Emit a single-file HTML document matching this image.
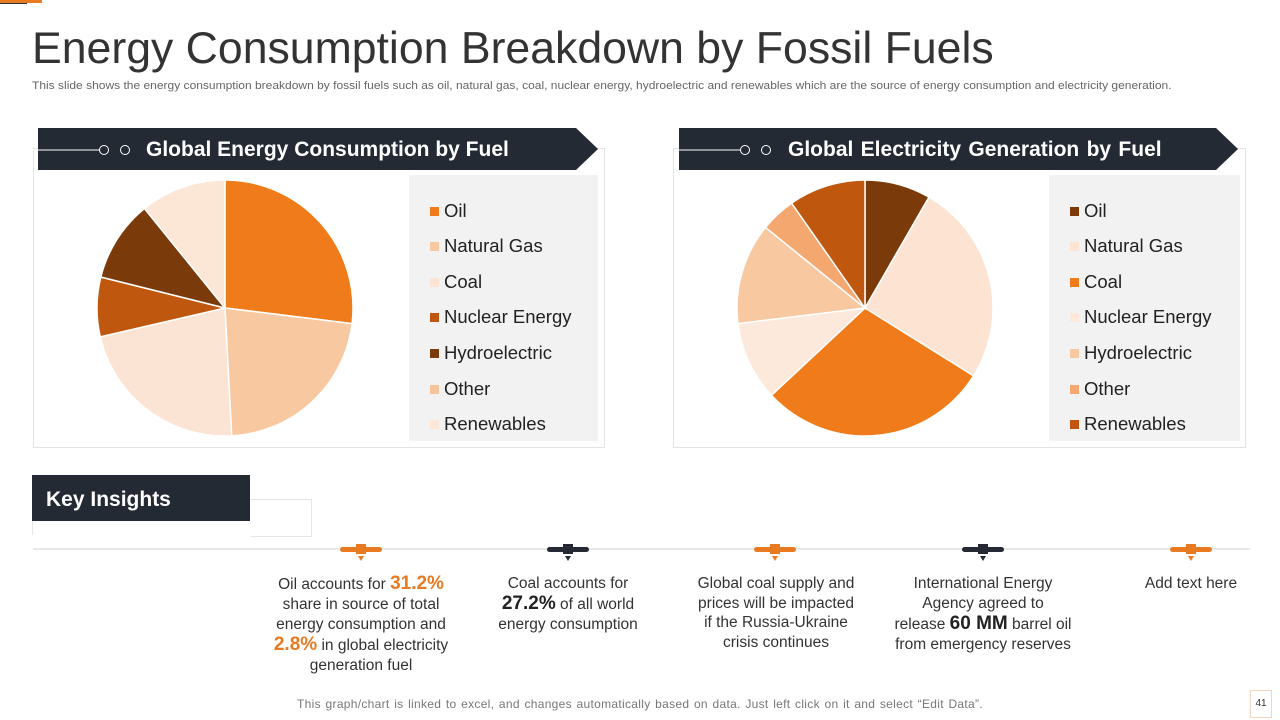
<!DOCTYPE html>
<html><head><meta charset="utf-8"><style>
body{margin:0;width:1280px;height:720px;background:#fff;position:relative;overflow:hidden;font-family:"Liberation Sans",sans-serif;color:#333}
.abs{position:absolute}
.banner{position:absolute;height:42px;background:#232a33;color:#fff;font-weight:bold;font-size:21px;line-height:44px;clip-path:polygon(0 0,calc(100% - 22px) 0,100% 50%,calc(100% - 22px) 100%,0 100%)}
.panel{position:absolute;border:1px solid #e3e3e3}
.legend{position:absolute;background:#f2f2f2}
.li{position:absolute;left:21px;font-size:18.5px;color:#222;height:24px;line-height:24px}
.li i{display:inline-block;width:9px;height:9px;margin-right:5px;vertical-align:1px}
.ins{position:absolute;width:200px;text-align:center;font-size:15.5px;line-height:20px;color:#333;white-space:nowrap}
.or{color:#e87a22;font-weight:bold;font-size:19px}
.bk{color:#222;font-weight:bold;font-size:19px}
</style></head><body>
<div class="abs" style="left:0;top:0;width:42px;height:3px;background:#e87a22"></div>
<div class="abs" style="left:0;top:3px;width:27px;height:1px;background:#333"></div>
<div class="abs" style="left:32px;top:24px;font-size:44.6px;color:#333;white-space:nowrap">Energy Consumption Breakdown by Fossil Fuels</div>
<div class="abs" style="left:32px;top:80px;font-size:11px;color:#666;white-space:nowrap;transform-origin:0 0;transform:scaleX(1.092)">This slide shows the energy consumption breakdown by fossil fuels such as oil, natural gas, coal, nuclear energy, hydroelectric and renewables which are the source of energy consumption and electricity generation.</div>

<div class="panel" style="left:33px;top:148px;width:570px;height:298px"></div>
<div class="panel" style="left:673px;top:148px;width:571px;height:298px"></div>
<div class="banner" style="left:38px;top:128px;width:560px"><span style="position:absolute;left:108px">Global Energy Consumption by Fuel</span></div>
<div class="banner" style="left:679px;top:128px;width:559px"><span style="position:absolute;left:109px;word-spacing:1.5px">Global Electricity Generation by Fuel</span></div>
<svg class="abs" style="left:0;top:0" width="1280" height="720">
<line x1="33" y1="150" x2="100" y2="150" stroke="#fff" stroke-width="1"/><circle cx="104" cy="150" r="4.5" fill="none" stroke="#fff"/><circle cx="125" cy="150" r="4.5" fill="none" stroke="#fff"/>
<line x1="674" y1="150" x2="741" y2="150" stroke="#fff" stroke-width="1"/><circle cx="745" cy="150" r="4.5" fill="none" stroke="#fff"/><circle cx="766" cy="150" r="4.5" fill="none" stroke="#fff"/>
</svg>
<svg class="abs" id="pies" style="left:0;top:0" width="1280" height="720"></svg>
<div class="legend" id="legL" style="left:409px;top:175px;width:189px;height:266px"></div>
<div class="legend" id="legR" style="left:1049px;top:175px;width:191px;height:266px"></div>

<div class="abs" style="left:250px;top:499px;width:61px;height:36px;border:1px solid #e6e6e6;border-left:none"></div>
<div class="abs" style="left:32px;top:521px;width:1px;height:14px;background:#e6e6e6"></div>
<div class="abs" style="left:32px;top:475px;width:218px;height:46px;background:#232a33;color:#fff;font-weight:bold;font-size:21px;line-height:50px;text-indent:14px">Key Insights</div>
<div class="abs" style="left:33px;top:548px;width:1217px;height:2px;background:#e8e8e8"></div>
<svg class="abs" id="marks" style="left:0;top:0" width="1280" height="720"></svg>

<div class="ins" style="left:261px;top:574px">Oil accounts for <span class="or">31.2%</span><br>share in source of total<br>energy consumption and<br><span class="or">2.8%</span> in global electricity<br>generation fuel</div>
<div class="ins" style="left:468px;top:574px">Coal accounts for<br><span class="bk">27.2%</span> of all world<br>energy consumption</div>
<div class="ins" style="left:676px;top:574px;line-height:19.5px">Global coal supply and<br>prices will be impacted<br>if the Russia-Ukraine<br>crisis continues</div>
<div class="ins" style="left:883px;top:574px">International Energy<br>Agency agreed to<br>release <span class="bk">60 MM</span> barrel oil<br>from emergency reserves</div>
<div class="ins" style="left:1091px;top:574px">Add text here</div>

<div class="abs" style="left:0;width:1280px;top:697px;text-align:center;font-size:12px;color:#777;word-spacing:1px;letter-spacing:0.3px">This graph/chart is linked to excel, and changes automatically based on data. Just left click on it and select “Edit Data”.</div>
<div class="abs" style="left:1250px;top:690px;width:20px;height:26px;border:1px solid #f3d6bd;font-size:10px;text-align:center;line-height:26px;color:#333">41</div>
<script>
const labels=["Oil","Natural Gas","Coal","Nuclear Energy","Hydroelectric","Other","Renewables"];
const consumption=[97,80,80,27,37,0,39];
const generation=[30,92,105,36,46,16,35];
const colorsL=["#F07B1A","#F8C8A0","#FCE4D4","#C0570F","#7A3A0A","#F6C49A","#FCE6D6"];
const colorsR=["#7A3A0A","#FCE3D2","#F07B1A","#FDE9DC","#F8C8A0","#F4A870","#C0570F"];
const NS="http://www.w3.org/2000/svg";
const svg=document.getElementById('pies');
function pie(vals,cols,cx,cy,r,prefix){
  const tot=vals.reduce((a,b)=>a+b,0);let a0=0;
  vals.forEach((v,i)=>{
    if(v<=0)return;
    const a1=a0+v/tot*2*Math.PI;
    const x0=cx+r*Math.sin(a0),y0=cy-r*Math.cos(a0),x1=cx+r*Math.sin(a1),y1=cy-r*Math.cos(a1);
    const p=document.createElementNS(NS,'path');
    p.setAttribute('d',`M${cx},${cy}L${x0},${y0}A${r},${r} 0 ${a1-a0>Math.PI?1:0} 1 ${x1},${y1}Z`);
    p.setAttribute('fill',cols[i]);p.setAttribute('stroke','#fff');p.setAttribute('stroke-width','1.5');
    
    
    svg.appendChild(p);a0=a1;
  });
}
pie(consumption,colorsL,225,308,128,'consumption');
pie(generation,colorsR,865,308,128,'generation');
function legend(id,cols,prefix){
  const el=document.getElementById(id);
  labels.forEach((l,i)=>{
    const d=document.createElement('div');d.className='li';d.style.top=(23.5+i*35.6)+'px';
    d.innerHTML='<i style="background:'+cols[i]+'"></i>'+l;
    
    
    el.appendChild(d);
  });
}
legend('legL',colorsL,'consumption');legend('legR',colorsR,'generation');
const mk=document.getElementById('marks');
[[361,"#e87a22"],[568,"#232a33"],[775,"#e87a22"],[983,"#232a33"],[1191,"#e87a22"]].forEach(([x,c])=>{
  const g=document.createElementNS(NS,'g');
  g.innerHTML=`<rect x="${x-21}" y="547" width="42" height="5" rx="2.5" fill="${c}"/><rect x="${x-5}" y="544" width="10" height="10" fill="${c}"/><path d="M${x-3},556L${x+3},556L${x},561Z" fill="${c}"/>`;
  
  
  mk.appendChild(g);
});
</script>
</body></html>
